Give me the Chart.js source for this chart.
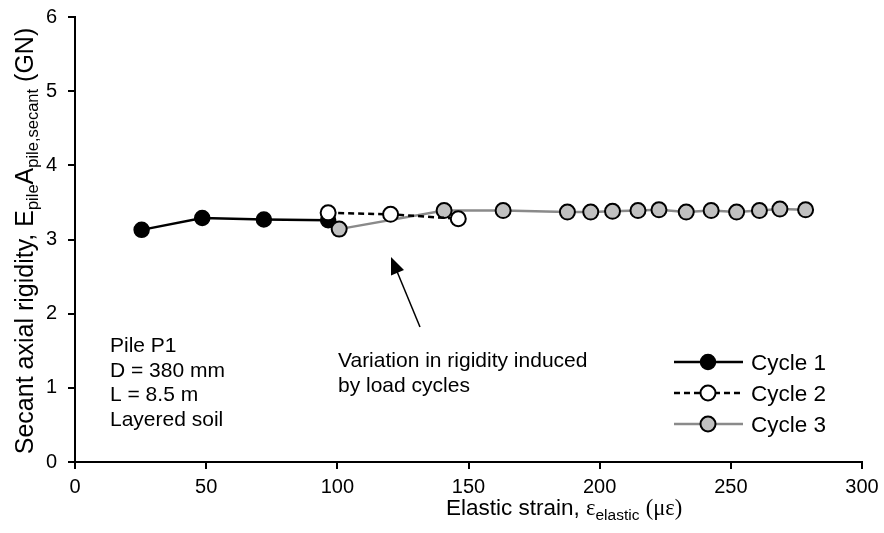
<!DOCTYPE html>
<html>
<head>
<meta charset="utf-8">
<script src="https://cdn.jsdelivr.net/npm/chart.js@4/dist/chart.umd.min.js"></script>
<style>
  html, body { margin: 0; padding: 0; background: #fff; }
  #wrap { width: 884px; height: 533px; position: relative; }
</style>
</head>
<body>
<div id="wrap"><canvas id="c" width="884" height="533"></canvas></div>
<script>
// ---- Data ----
const cycle1X = [25.4, 48.5, 72.0, 96.5];
const cycle1Y = [3.13, 3.29, 3.27, 3.26];
const cycle2X = [96.5, 120.3, 146.1];
const cycle2Y = [3.36, 3.34, 3.28];
const cycle3X = [100.7, 140.7, 163.2, 187.7, 196.6, 204.9, 214.6, 222.6, 233.0, 242.5, 252.2, 260.9, 268.7, 278.5];
const cycle3Y = [3.14, 3.39, 3.39, 3.37, 3.37, 3.38, 3.39, 3.40, 3.37, 3.39, 3.37, 3.39, 3.41, 3.40];
const seriesNames = ['Cycle 1', 'Cycle 2', 'Cycle 3'];
const xTicks = [0, 50, 100, 150, 200, 250, 300];
const yTicks = [0, 1, 2, 3, 4, 5, 6];
const pileInfo = ['Pile P1', 'D = 380 mm', 'L = 8.5 m', 'Layered soil'];
const noteLines = ['Variation in rigidity induced', 'by load cycles'];

const SANS = '"Liberation Sans", Arial, sans-serif';
const SERIF = '"Liberation Serif", "Times New Roman", serif';

function pts(xs, ys) { return xs.map((x, i) => ({ x: x, y: ys[i] })); }

const datasets = [
  {
    label: seriesNames[0], data: pts(cycle1X, cycle1Y), order: 3,
    borderColor: '#000', borderWidth: 2.5, backgroundColor: '#000',
    pointBackgroundColor: '#000', pointBorderColor: '#000', pointBorderWidth: 1.5,
    pointRadius: 7.5, pointHoverRadius: 7.5, showLine: true
  },
  {
    label: seriesNames[1], data: pts(cycle2X, cycle2Y), order: 1,
    borderColor: '#000', borderWidth: 2.5, borderDash: [6, 4], backgroundColor: '#fff',
    pointBackgroundColor: '#fff', pointBorderColor: '#000', pointBorderWidth: 2,
    pointRadius: 7.5, pointHoverRadius: 7.5, showLine: true
  },
  {
    label: seriesNames[2], data: pts(cycle3X, cycle3Y), order: 2,
    borderColor: '#8a8a8a', borderWidth: 2.5, backgroundColor: '#c0c0c0',
    pointBackgroundColor: '#c0c0c0', pointBorderColor: '#000', pointBorderWidth: 2,
    pointRadius: 7.5, pointHoverRadius: 7.5, showLine: true
  }
];

function drawSegments(ctx, segs, x, y) {
  let cx = x;
  segs.forEach(s => {
    ctx.font = s.font;
    ctx.fillText(s.t, cx, y + (s.dy || 0));
    cx += ctx.measureText(s.t).width;
  });
  return cx;
}
function segWidth(ctx, segs) {
  let w = 0;
  segs.forEach(s => { ctx.font = s.font; w += ctx.measureText(s.t).width; });
  return w;
}

const decor = {
  id: 'decor',
  afterDraw(chart) {
    const ctx = chart.ctx;
    const area = chart.chartArea;
    ctx.save();
    ctx.fillStyle = '#000';
    ctx.textBaseline = 'alphabetic';
    ctx.textAlign = 'left';

    // Y axis title (rotated)
    const yF = 25, ySub = 16.5;
    const ySegs = [
      { t: 'Secant axial rigidity, E', font: yF + 'px ' + SANS },
      { t: 'pile', font: ySub + 'px ' + SANS, dy: 5 },
      { t: 'A', font: yF + 'px ' + SANS },
      { t: 'pile,secant', font: ySub + 'px ' + SANS, dy: 5 },
      { t: ' (GN)', font: yF + 'px ' + SANS }
    ];
    const yw = segWidth(ctx, ySegs);
    ctx.save();
    ctx.translate(33, 241);
    ctx.rotate(-Math.PI / 2);
    drawSegments(ctx, ySegs, -yw / 2, 0);
    ctx.restore();

    // X axis title
    const xF = 22.5, xSub = 15.5;
    const xSegs = [
      { t: 'Elastic strain, ', font: xF + 'px ' + SANS },
      { t: 'ε', font: xF + 'px ' + SERIF },
      { t: 'elastic', font: xSub + 'px ' + SANS, dy: 5 },
      { t: ' ', font: xF + 'px ' + SANS },
      { t: '(με)', font: xF + 'px ' + SERIF }
    ];
    drawSegments(ctx, xSegs, 446, 515);

    // Pile info and note
    ctx.font = '21px ' + SANS;
    pileInfo.forEach((t, i) => ctx.fillText(t, 110, 352 + i * 24.6));
    noteLines.forEach((t, i) => ctx.fillText(t, 338, 367 + i * 24.5));

    // Arrow
    const x0 = 420, y0 = 327, x1 = 391, y1 = 257;
    const ang = Math.atan2(y1 - y0, x1 - x0);
    const hl = 17, hw = 7;
    ctx.strokeStyle = '#000';
    ctx.lineWidth = 1.5;
    ctx.beginPath();
    ctx.moveTo(x0, y0);
    ctx.lineTo(x1 - Math.cos(ang) * hl * 0.8, y1 - Math.sin(ang) * hl * 0.8);
    ctx.stroke();
    ctx.beginPath();
    ctx.moveTo(x1, y1);
    ctx.lineTo(x1 - Math.cos(ang) * hl + Math.sin(ang) * hw, y1 - Math.sin(ang) * hl - Math.cos(ang) * hw);
    ctx.lineTo(x1 - Math.cos(ang) * hl - Math.sin(ang) * hw, y1 - Math.sin(ang) * hl + Math.cos(ang) * hw);
    ctx.closePath();
    ctx.fill();

    // Legend
    const lx0 = 674, lx1 = 743, mx = 708, tx = 751;
    const rows = [362, 393, 424];
    chart.data.datasets.forEach((ds, i) => {
      const y = rows[i];
      ctx.save();
      ctx.strokeStyle = ds.borderColor;
      ctx.lineWidth = ds.borderWidth;
      ctx.setLineDash(ds.borderDash || []);
      ctx.beginPath();
      ctx.moveTo(lx0, y); ctx.lineTo(lx1, y);
      ctx.stroke();
      ctx.setLineDash([]);
      ctx.beginPath();
      ctx.arc(mx, y, ds.pointRadius, 0, Math.PI * 2);
      ctx.fillStyle = ds.pointBackgroundColor;
      ctx.fill();
      ctx.lineWidth = ds.pointBorderWidth;
      ctx.strokeStyle = ds.pointBorderColor;
      ctx.stroke();
      ctx.restore();
      ctx.font = '22.5px ' + SANS;
      ctx.fillStyle = '#000';
      ctx.fillText(ds.label, tx, y + 8);
    });
    ctx.restore();
  }
};

new Chart(document.getElementById('c'), {
  type: 'scatter',
  data: { datasets: datasets },
  options: {
    responsive: false,
    animation: false,
    devicePixelRatio: 1,
    layout: { padding: { left: 0, top: 17, right: 22, bottom: 0 } },
    plugins: { legend: { display: false }, tooltip: { enabled: false } },
    scales: {
      x: {
        type: 'linear', min: xTicks[0], max: xTicks[xTicks.length - 1],
        afterBuildTicks(scale) { scale.ticks = xTicks.map(v => ({ value: v })); },
        afterFit(scale) { scale.height = 71; scale.paddingLeft = 0; scale.paddingRight = 0; },
        grid: { drawOnChartArea: false, drawTicks: true, tickLength: 7, color: '#000', lineWidth: 2 },
        border: { display: true, color: '#000', width: 2 },
        ticks: { color: '#000', font: { family: SANS, size: 20 }, padding: 6, maxRotation: 0 },
        title: { display: false }
      },
      y: {
        type: 'linear', min: yTicks[0], max: yTicks[yTicks.length - 1],
        afterBuildTicks(scale) { scale.ticks = yTicks.map(v => ({ value: v })); },
        afterFit(scale) { scale.width = 75; scale.paddingTop = 0; scale.paddingBottom = 0; },
        grid: { drawOnChartArea: false, drawTicks: true, tickLength: 7, color: '#000', lineWidth: 2 },
        border: { display: true, color: '#000', width: 2 },
        ticks: { color: '#000', font: { family: SANS, size: 20 }, padding: 11 },
        title: { display: false }
      }
    }
  },
  plugins: [decor]
});
</script>
</body>
</html>
